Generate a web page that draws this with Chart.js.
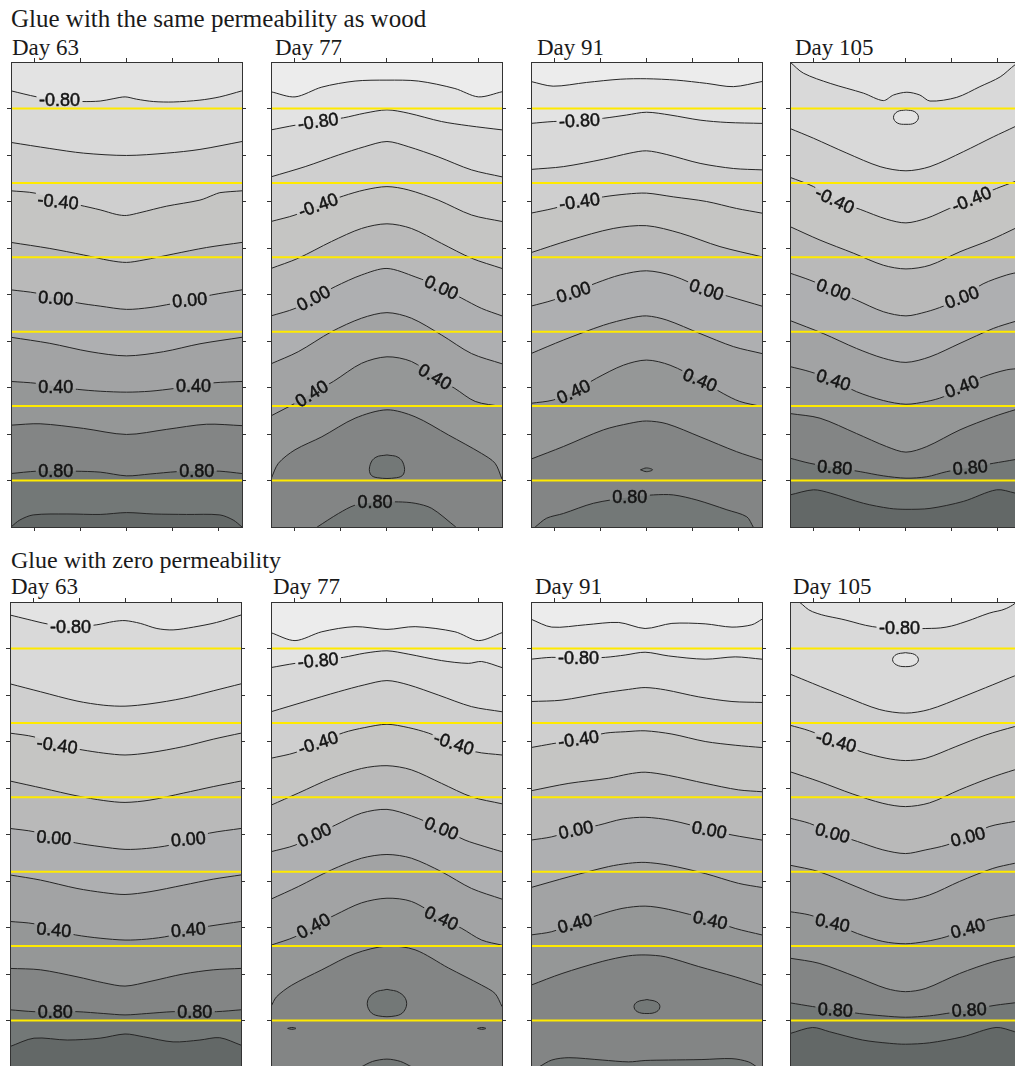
<!DOCTYPE html>
<html>
<head>
<meta charset="utf-8">
<title>Glue permeability contours</title>
<script src="https://cdn.jsdelivr.net/npm/chart.js@4.4.1/dist/chart.umd.min.js"></script>
<style>
  html, body { margin: 0; padding: 0; background: #fff; }
  body {
    width: 1015px; height: 1066px; overflow: hidden; position: relative;
    font-family: "Liberation Serif", "Times New Roman", serif; color: #1a1a1a;
  }
  .heading { position: absolute; left: 11px; font-size: 24px; line-height: 24px; white-space: nowrap; }
  .heading.top { font-size: 25px; }
  .day { position: absolute; font-size: 23px; line-height: 23px; white-space: nowrap; }
  .panel { position: absolute; }
</style>
</head>
<body>
<div class="heading top" style="top:7px">Glue with the same permeability as wood</div>
<div class="day" style="left:12px; top:36px">Day 63</div>
<div class="day" style="left:275px; top:36px">Day 77</div>
<div class="day" style="left:537px; top:36px">Day 91</div>
<div class="day" style="left:795px; top:36px">Day 105</div>
<canvas class="panel" id="wood-63" width="239" height="473" style="left:7px; top:58px"></canvas>
<canvas class="panel" id="wood-77" width="239" height="473" style="left:267px; top:58px"></canvas>
<canvas class="panel" id="wood-91" width="239" height="473" style="left:527px; top:58px"></canvas>
<canvas class="panel" id="wood-105" width="239" height="473" style="left:786px; top:58px"></canvas>

<div class="heading" style="top:548px">Glue with zero permeability</div>
<div class="day" style="left:11px; top:575px">Day 63</div>
<div class="day" style="left:273px; top:575px">Day 77</div>
<div class="day" style="left:535px; top:575px">Day 91</div>
<div class="day" style="left:793px; top:575px">Day 105</div>
<canvas class="panel" id="zero-63" width="239" height="473" style="left:6px; top:598px"></canvas>
<canvas class="panel" id="zero-77" width="239" height="473" style="left:267px; top:598px"></canvas>
<canvas class="panel" id="zero-91" width="239" height="473" style="left:527px; top:598px"></canvas>
<canvas class="panel" id="zero-105" width="239" height="473" style="left:786px; top:598px"></canvas>

<script>
// axes: x across the joint (0..5), depth from the top face (0..10, downwards)
const xTicks = [0.5, 1.5, 2.5, 3.5, 4.5];
const depthTicks = [1, 2, 3, 4, 5, 6, 7, 8, 9];
const glueLineDepths = [1, 2.6, 4.2, 5.8, 7.4, 9];

// grey for each band, keyed by the band's lower contour level
const bandLevels = [-1.2, -1.0, -0.8, -0.6, -0.4, -0.2, 0.0, 0.2, 0.4, 0.6, 0.8, 1.0];
const bandGreys = ['#ececec', '#e3e3e3', '#d9d9d9', '#cfcfcf', '#c5c5c3', '#b9b9b9',
                   '#aeafb1', '#a2a3a4', '#959797', '#838585', '#737877', '#636867'];

// contour lines: [level, [[x, depth], ...]], listed from the top down
// labels: [x, depth, angle in degrees, text]
// loops (closed contours): [level of the band inside, [[x, depth], ...]]

// ---- glue with the same permeability as wood ----
const wood63Lines = [
  [-0.8, [[0,0.62],[0.56,0.75],[1.05,0.82],[1.53,0.85],[1.93,0.84],[2.21,0.79],[2.47,0.75],[2.72,0.80],[3.08,0.85],[3.51,0.86],[4.09,0.82],[4.52,0.75],[5,0.62]]],
  [-0.6, [[0,1.73],[0.84,1.86],[1.57,1.96],[2.5,2.01],[3.37,1.96],[4.09,1.88],[5,1.71]]],
  [-0.4, [[0,2.77],[0.52,2.82],[1.02,2.98],[1.49,3.08],[1.93,3.18],[2.29,3.28],[2.5,3.30],[2.79,3.24],[3.37,3.10],[4.09,2.97],[4.38,2.86],[4.52,2.81],[5,2.77]]],
  [-0.2, [[0,3.88],[0.84,4.01],[1.57,4.15],[2.14,4.27],[2.5,4.31],[2.86,4.26],[3.51,4.13],[4.23,3.99],[5,3.88]]],
  [0.0, [[0,4.90],[0.55,4.97],[0.97,5.08],[1.44,5.18],[1.93,5.25],[2.5,5.32],[3.01,5.28],[3.48,5.20],[3.87,5.12],[4.34,5.01],[5,4.90]]],
  [0.2, [[0,5.92],[0.84,6.05],[1.71,6.23],[2.5,6.32],[3.30,6.23],[4.09,6.06],[5,5.92]]],
  [0.4, [[0,6.87],[0.55,6.91],[0.97,6.98],[1.44,7.04],[1.93,7.08],[2.5,7.10],[3.01,7.08],[3.55,7.02],[3.95,6.97],[4.38,6.90],[5,6.87]]],
  [0.6, [[0,7.81],[0.63,7.78],[1.57,7.88],[2.5,8.01],[3.37,7.90],[4.23,7.79],[5,7.82]]],
  [0.8, [[0,8.85],[0.55,8.80],[0.97,8.80],[1.39,8.80],[1.93,8.82],[2.5,8.90],[3.01,8.86],[3.59,8.81],[4.02,8.80],[4.52,8.80],[5,8.85]]],
  [1.0, [[0,10],[0.19,9.85],[0.48,9.74],[1.21,9.72],[1.93,9.73],[2.5,9.69],[3.08,9.72],[3.80,9.73],[4.52,9.74],[4.81,9.85],[5,10]]]
];
const wood63Labels = [[1.05,0.82,0,'-0.80'],[1.02,3.0,6,'-0.40'],[0.97,5.08,5,'0.00'],[3.87,5.12,-5,'0.00'],
  [0.97,6.98,0,'0.40'],[3.95,6.97,0,'0.40'],[0.97,8.80,0,'0.80'],[4.02,8.80,0,'0.80']];

const wood77Lines = [
  [-1.0, [[0,0.64],[0.52,0.75],[1.10,0.54],[1.82,0.41],[2.51,0.39],[3.19,0.41],[3.98,0.57],[4.49,0.75],[5,0.64]]],
  [-0.8, [[0,1.46],[0.52,1.36],[1.02,1.28],[1.57,1.20],[2.03,1.10],[2.51,1.03],[2.97,1.10],[3.69,1.28],[4.27,1.37],[5,1.46]]],
  [-0.6, [[0,2.47],[0.74,2.25],[1.46,2.00],[2.03,1.82],[2.51,1.71],[2.97,1.82],[3.62,2.04],[4.34,2.32],[5,2.47]]],
  [-0.4, [[0,3.43],[0.52,3.29],[1.02,3.08],[1.57,2.88],[2.03,2.75],[2.51,2.68],[2.97,2.75],[3.62,2.97],[4.34,3.29],[5,3.43]]],
  [-0.2, [[0,4.44],[0.59,4.22],[1.31,3.86],[1.96,3.58],[2.51,3.48],[3.04,3.58],[3.69,3.90],[4.34,4.22],[5,4.44]]],
  [0.0, [[0,5.46],[0.52,5.30],[0.92,5.08],[1.39,4.83],[1.96,4.58],[2.51,4.44],[3.12,4.62],[3.69,4.85],[4.13,5.08],[4.56,5.30],[5,5.46]]],
  [0.2, [[0,6.49],[0.59,6.23],[1.31,5.80],[1.96,5.51],[2.51,5.39],[3.04,5.51],[3.69,5.87],[4.34,6.27],[5,6.49]]],
  [0.4, [[0,7.61],[0.52,7.34],[0.88,7.13],[1.35,6.87],[1.96,6.48],[2.51,6.34],[3.04,6.44],[3.55,6.77],[3.98,7.02],[4.42,7.30],[5,7.41]]],
  [0.6, [[0,8.97],[0.16,8.63],[0.52,8.34],[1.10,8.06],[1.82,7.66],[2.51,7.48],[3.12,7.63],[3.84,8.02],[4.56,8.42],[4.85,8.63],[5,8.97]]],
  [0.8, [[1.0,10],[1.46,9.71],[1.82,9.53],[2.25,9.47],[2.76,9.46],[3.12,9.49],[3.48,9.60],[4.0,10]]]
];
const wood77Loops = [
  [0.8, [[2.51,8.45],[2.75,8.50],[2.87,8.65],[2.87,8.86],[2.72,8.94],[2.30,8.94],[2.15,8.86],[2.15,8.65],[2.27,8.50],[2.51,8.45]]]
];
const wood77Labels = [[1.02,1.28,-8,'-0.80'],[1.02,3.08,-20,'-0.40'],[0.92,5.08,-28,'0.00'],[3.69,4.85,25,'0.00'],
  [0.88,7.13,-32,'0.40'],[3.55,6.77,30,'0.40'],[2.25,9.47,0,'0.80']];

const wood91Lines = [
  [-1.0, [[0,0.42],[0.48,0.52],[1.20,0.44],[1.93,0.37],[2.50,0.36],[3.15,0.39],[3.80,0.46],[4.38,0.53],[5,0.42]]],
  [-0.8, [[0,1.32],[0.48,1.28],[1.05,1.26],[1.57,1.21],[2.07,1.14],[2.50,1.08],[3.01,1.14],[3.66,1.25],[4.24,1.30],[5,1.32]]],
  [-0.6, [[0,2.31],[0.70,2.25],[1.57,2.09],[2.14,1.96],[2.50,1.91],[2.94,1.99],[3.66,2.18],[4.38,2.29],[5,2.32]]],
  [-0.4, [[0,3.25],[0.48,3.15],[1.05,3.00],[1.57,2.90],[2.07,2.84],[2.50,2.82],[3.08,2.90],[3.80,3.00],[4.45,3.15],[5,3.25]]],
  [-0.2, [[0,4.10],[0.84,3.83],[1.78,3.58],[2.50,3.52],[3.23,3.68],[4.09,3.97],[5,4.19]]],
  [0.0, [[0,5.25],[0.48,5.12],[0.92,4.95],[1.42,4.75],[1.93,4.58],[2.50,4.49],[3.08,4.60],[3.80,4.90],[4.31,5.05],[5,5.25]]],
  [0.2, [[0,6.27],[0.70,5.98],[1.57,5.66],[2.14,5.51],[2.50,5.46],[2.94,5.55],[3.66,5.84],[4.38,6.12],[5,6.27]]],
  [0.4, [[0,7.34],[0.48,7.27],[0.92,7.09],[1.42,6.80],[2.00,6.52],[2.50,6.41],[3.01,6.52],[3.66,6.84],[4.16,7.13],[4.52,7.30],[5,7.41]]],
  [0.6, [[0,8.54],[0.70,8.27],[1.57,7.91],[2.14,7.77],[2.50,7.72],[2.94,7.78],[3.66,8.06],[4.45,8.38],[5,8.56]]],
  [0.8, [[0.09,10],[0.34,9.81],[0.70,9.71],[1.35,9.49],[2.14,9.36],[2.65,9.31],[3.08,9.31],[3.59,9.42],[4.24,9.63],[4.67,9.78],[4.81,10]]]
];
const wood91Loops = [
  [0.8, [[2.37,8.77],[2.50,8.73],[2.63,8.77],[2.50,8.81],[2.37,8.77]]]
];
const wood91Labels = [[1.05,1.26,-3,'-0.80'],[1.05,3.00,-8,'-0.40'],[0.92,4.95,-18,'0.00'],[3.80,4.90,18,'0.00'],
  [0.92,7.09,-25,'0.40'],[3.66,6.84,22,'0.40'],[2.14,9.36,0,'0.80']];

const wood105Lines = [
  [-0.8, [[0,0],[0.29,0.24],[0.87,0.46],[1.59,0.67],[2.02,0.83],[2.24,0.71],[2.53,0.65],[2.81,0.71],[3.03,0.84],[3.61,0.76],[4.11,0.53],[4.55,0.32],[4.87,0.06],[5,0]]],
  [-0.6, [[0,1.43],[0.51,1.64],[1.23,1.96],[1.95,2.25],[2.51,2.34],[3.03,2.25],[3.75,1.93],[4.40,1.61],[4.87,1.39],[5,1.32]]],
  [-0.4, [[0,2.48],[0.51,2.68],[0.97,2.97],[1.52,3.17],[2.09,3.38],[2.51,3.46],[2.96,3.36],[3.45,3.15],[3.93,2.95],[4.47,2.72],[4.87,2.57],[5,2.52]]],
  [-0.2, [[0,3.54],[0.65,3.83],[1.37,4.11],[2.02,4.37],[2.51,4.45],[3.03,4.37],[3.68,4.08],[4.33,3.83],[4.87,3.58],[5,3.51]]],
  [0.0, [[0,4.54],[0.43,4.69],[0.94,4.90],[1.44,5.12],[2.02,5.37],[2.51,5.46],[2.96,5.37],[3.32,5.25],[3.72,5.06],[4.18,4.77],[4.69,4.58],[5,4.51]]],
  [0.2, [[0,5.56],[0.72,5.84],[1.44,6.16],[2.02,6.37],[2.51,6.46],[3.03,6.34],[3.68,6.05],[4.40,5.73],[4.87,5.58],[5,5.55]]],
  [0.4, [[0,6.55],[0.43,6.66],[0.94,6.84],[1.44,7.09],[2.02,7.28],[2.51,7.36],[2.96,7.30],[3.32,7.20],[3.72,6.98],[4.18,6.77],[4.69,6.62],[5,6.59]]],
  [0.6, [[0,7.56],[0.65,7.66],[1.44,7.99],[2.09,8.27],[2.51,8.39],[2.96,8.27],[3.68,7.91],[4.40,7.63],[4.87,7.48],[5,7.45]]],
  [0.8, [[0,8.52],[0.43,8.63],[0.97,8.72],[1.52,8.81],[2.02,8.90],[2.51,8.95],[2.96,8.92],[3.39,8.81],[3.90,8.72],[4.40,8.63],[4.87,8.55],[5,8.52]]],
  [1.0, [[0,9.31],[0.51,9.20],[0.87,9.27],[1.59,9.49],[2.16,9.60],[2.51,9.62],[3.03,9.60],[3.75,9.45],[4.47,9.20],[4.87,9.27],[5,9.31]]]
];
const wood105Loops = [
  [-1.0, [[2.51,1.03],[2.70,1.07],[2.78,1.19],[2.70,1.31],[2.51,1.34],[2.32,1.31],[2.24,1.19],[2.32,1.07],[2.51,1.03]]]
];
const wood105Labels = [[0.97,2.97,25,'-0.40'],[3.93,2.95,-22,'-0.40'],[0.94,4.90,20,'0.00'],[3.72,5.06,-20,'0.00'],
  [0.94,6.84,18,'0.40'],[3.72,6.98,-20,'0.40'],[0.97,8.72,5,'0.80'],[3.90,8.72,-5,'0.80']];

// ---- glue with zero permeability ----
const zero63Lines = [
  [-0.8, [[0,0.28],[0.37,0.37],[0.80,0.47],[1.31,0.54],[1.88,0.49],[2.24,0.42],[2.49,0.40],[2.82,0.46],[3.18,0.57],[3.53,0.60],[3.97,0.54],[4.47,0.44],[5,0.28]]],
  [-0.6, [[0,1.76],[0.66,1.93],[1.45,2.13],[2.03,2.22],[2.49,2.24],[3.03,2.19],[3.75,2.07],[4.40,1.91],[5,1.76]]],
  [-0.4, [[0,2.82],[0.52,2.90],[1.02,3.08],[1.56,3.18],[2.03,3.25],[2.49,3.29],[3.03,3.24],[3.75,3.11],[4.40,2.95],[5,2.82]]],
  [-0.2, [[0,3.85],[0.73,4.01],[1.45,4.17],[2.03,4.27],[2.49,4.31],[3.03,4.26],[3.75,4.11],[4.40,3.97],[5,3.85]]],
  [0.0, [[0,4.87],[0.52,4.94],[0.95,5.07],[1.42,5.18],[1.95,5.26],[2.49,5.32],[2.96,5.30],[3.46,5.23],[3.86,5.10],[4.32,4.97],[5,4.87]]],
  [0.2, [[0,5.87],[0.66,5.98],[1.45,6.16],[2.03,6.25],[2.49,6.29],[3.03,6.23],[3.75,6.09],[4.40,5.96],[5,5.87]]],
  [0.4, [[0,6.87],[0.52,6.92],[0.95,7.05],[1.42,7.16],[1.95,7.23],[2.49,7.27],[2.96,7.25],[3.46,7.18],[3.86,7.05],[4.32,6.97],[5,6.87]]],
  [0.6, [[0,7.88],[0.66,7.91],[1.45,8.06],[2.03,8.19],[2.49,8.26],[3.03,8.16],[3.75,8.00],[4.40,7.91],[5,7.88]]],
  [0.8, [[0,8.77],[0.52,8.81],[0.98,8.81],[1.45,8.81],[2.03,8.85],[2.49,8.88],[2.96,8.85],[3.53,8.81],[4.00,8.81],[4.47,8.81],[5,8.77]]],
  [1.0, [[0,9.56],[0.52,9.38],[1.24,9.42],[1.95,9.38],[2.49,9.29],[2.89,9.35],[3.53,9.46],[4.11,9.42],[4.54,9.37],[5,9.53]]]
];
const zero63Labels = [[1.31,0.54,0,'-0.80'],[1.02,3.08,8,'-0.40'],[0.95,5.07,5,'0.00'],[3.86,5.10,-5,'0.00'],
  [0.95,7.05,5,'0.40'],[3.86,7.05,-5,'0.40'],[0.98,8.81,0,'0.80'],[4.00,8.81,0,'0.80']];

const zero77Lines = [
  [-1.0, [[0,0.66],[0.52,0.83],[1.10,0.64],[1.82,0.53],[2.51,0.59],[3.12,0.53],[3.98,0.64],[4.49,0.83],[5,0.66]]],
  [-0.8, [[0,1.41],[0.52,1.32],[1.02,1.26],[1.57,1.19],[2.03,1.10],[2.51,1.05],[2.97,1.12],[3.69,1.26],[4.27,1.32],[4.56,1.28],[5,1.41]]],
  [-0.6, [[0,2.36],[0.74,2.14],[1.46,1.93],[2.03,1.78],[2.51,1.69],[2.97,1.78],[3.62,2.00],[4.34,2.25],[5,2.36]]],
  [-0.4, [[0,3.36],[0.52,3.24],[1.02,3.03],[1.57,2.81],[2.03,2.70],[2.51,2.63],[2.97,2.70],[3.41,2.82],[3.96,3.04],[4.42,3.22],[5,3.29]]],
  [-0.2, [[0,4.37],[0.59,4.11],[1.31,3.79],[1.96,3.58],[2.51,3.52],[3.04,3.61],[3.69,3.90],[4.34,4.19],[5,4.34]]],
  [0.0, [[0,5.37],[0.52,5.23],[0.94,5.01],[1.39,4.80],[1.96,4.54],[2.51,4.46],[3.04,4.60],[3.69,4.87],[4.20,5.12],[4.63,5.26],[5,5.37]]],
  [0.2, [[0,6.39],[0.59,6.12],[1.31,5.76],[1.96,5.51],[2.51,5.43],[3.04,5.51],[3.69,5.80],[4.34,6.16],[5,6.39]]],
  [0.4, [[0,7.38],[0.52,7.20],[0.92,6.97],[1.39,6.73],[1.96,6.47],[2.51,6.37],[3.04,6.44],[3.69,6.80],[4.13,7.02],[4.56,7.27],[5,7.38]]],
  [0.6, [[0,8.70],[0.12,8.49],[0.45,8.24],[1.10,7.91],[1.82,7.56],[2.51,7.40],[3.12,7.48],[3.84,7.87],[4.56,8.24],[4.85,8.42],[5,8.70]]],
  [0.8, [[1.95,10],[2.20,9.88],[2.51,9.83],[2.80,9.88],[3.05,10]]]
];
const zero77Loops = [
  [0.8, [[2.51,8.33],[2.78,8.40],[2.93,8.58],[2.88,8.80],[2.70,8.90],[2.32,8.90],[2.14,8.80],[2.09,8.58],[2.24,8.40],[2.51,8.33]]],
  [0.8, [[0.36,9.17],[0.45,9.15],[0.54,9.17],[0.45,9.19],[0.36,9.17]]],
  [0.8, [[4.47,9.17],[4.56,9.15],[4.65,9.17],[4.56,9.19],[4.47,9.17]]]
];
const zero77Labels = [[1.02,1.26,-5,'-0.80'],[1.02,3.03,-18,'-0.40'],[3.96,3.04,18,'-0.40'],[0.94,5.01,-25,'0.00'],
  [3.69,4.87,22,'0.00'],[0.92,6.97,-28,'0.40'],[3.69,6.80,25,'0.40']];

const zero91Lines = [
  [-1.0, [[0,0.37],[0.45,0.54],[1.18,0.49],[1.90,0.44],[2.47,0.57],[3.05,0.46],[3.77,0.47],[4.35,0.54],[4.78,0.49],[5,0.37]]],
  [-0.8, [[0,1.23],[0.45,1.19],[1.03,1.21],[1.61,1.19],[2.04,1.14],[2.47,1.08],[2.98,1.16],[3.77,1.23],[4.42,1.18],[5,1.23]]],
  [-0.6, [[0,2.14],[0.67,2.11],[1.54,1.96],[2.11,1.88],[2.47,1.84],[2.91,1.89],[3.63,2.04],[4.35,2.14],[5,2.16]]],
  [-0.4, [[0,3.13],[0.45,3.05],[1.03,2.95],[1.61,2.82],[2.04,2.79],[2.47,2.77],[3.05,2.84],[3.77,3.00],[4.42,3.08],[5,3.13]]],
  [-0.2, [[0,4.06],[0.82,3.90],[1.68,3.79],[2.11,3.70],[2.47,3.66],[2.98,3.73],[3.77,3.90],[4.49,4.04],[5,4.08]]],
  [0.0, [[0,5.12],[0.45,5.05],[0.97,4.90],[1.46,4.80],[1.97,4.67],[2.47,4.63],[3.05,4.70],[3.86,4.90],[4.35,5.01],[5,5.12]]],
  [0.2, [[0,6.14],[0.82,5.91],[1.68,5.69],[2.11,5.62],[2.47,5.60],[2.98,5.66],[3.77,5.84],[4.49,6.05],[5,6.14]]],
  [0.4, [[0,7.16],[0.45,7.09],[0.95,6.91],[1.46,6.73],[1.97,6.59],[2.47,6.54],[2.98,6.61],[3.88,6.84],[4.42,7.02],[5,7.16]]],
  [0.6, [[0,8.24],[0.67,7.99],[1.54,7.73],[2.11,7.61],[2.47,7.59],[2.91,7.63],[3.63,7.84],[4.42,8.06],[5,8.24]]],
  [0.8, [[0.17,10],[0.45,9.85],[0.82,9.80],[1.54,9.85],[2.11,9.89],[2.47,9.86],[2.98,9.85],[3.70,9.84],[4.35,9.82],[4.71,9.89],[4.89,10]]]
];
const zero91Loops = [
  [0.8, [[2.51,8.55],[2.72,8.60],[2.79,8.70],[2.72,8.81],[2.51,8.85],[2.30,8.81],[2.23,8.70],[2.30,8.60],[2.51,8.55]]]
];
const zero91Labels = [[1.03,1.21,0,'-0.80'],[1.03,2.95,-8,'-0.40'],[0.97,4.90,-12,'0.00'],[3.86,4.90,10,'0.00'],
  [0.95,6.91,-15,'0.40'],[3.88,6.84,12,'0.40']];

const zero105Lines = [
  [-0.6, [[0,1.55],[0.49,1.75],[1.21,2.04],[1.93,2.31],[2.50,2.39],[3.02,2.31],[3.74,2.04],[4.39,1.78],[4.86,1.59],[5,1.55]]],
  [-0.4, [[0,2.65],[0.42,2.77],[1.00,3.00],[1.54,3.22],[2.08,3.36],[2.50,3.41],[2.94,3.36],[3.59,3.11],[4.24,2.86],[4.86,2.68],[5,2.65]]],
  [-0.2, [[0,3.65],[0.63,3.86],[1.36,4.13],[2.01,4.33],[2.50,4.40],[3.02,4.32],[3.67,4.04],[4.31,3.79],[4.86,3.61],[5,3.58]]],
  [0.0, [[0,4.65],[0.42,4.76],[0.92,4.97],[1.46,5.15],[2.01,5.33],[2.50,5.41],[2.94,5.33],[3.38,5.23],[3.85,5.05],[4.31,4.83],[4.86,4.72],[5,4.70]]],
  [0.2, [[0,5.66],[0.63,5.80],[1.43,6.12],[2.01,6.34],[2.50,6.41],[3.02,6.30],[3.67,6.01],[4.39,5.73],[4.86,5.62],[5,5.60]]],
  [0.4, [[0,6.66],[0.42,6.73],[0.92,6.90],[1.46,7.13],[2.01,7.30],[2.50,7.35],[2.94,7.30],[3.38,7.20],[3.85,7.02],[4.31,6.84],[4.86,6.73],[5,6.70]]],
  [0.6, [[0,7.66],[0.63,7.77],[1.43,8.06],[2.08,8.31],[2.50,8.38],[2.94,8.31],[3.67,7.99],[4.39,7.74],[4.86,7.63],[5,7.59]]],
  [0.8, [[0,8.62],[0.49,8.70],[0.98,8.77],[1.50,8.85],[2.01,8.90],[2.50,8.93],[3.02,8.90],[3.38,8.85],[3.88,8.77],[4.46,8.67],[4.86,8.62],[5,8.60]]],
  [1.0, [[0,9.28],[0.49,9.15],[0.85,9.24],[1.57,9.42],[2.15,9.49],[2.50,9.51],[3.02,9.48],[3.74,9.35],[4.46,9.15],[4.86,9.24],[5,9.29]]]
];
const zero105Loops = [
  [-1.0, [[0.20,0],[0.49,0.21],[1.21,0.39],[1.79,0.53],[2.37,0.57],[2.94,0.57],[3.38,0.54],[3.81,0.42],[4.31,0.24],[4.68,0.14],[4.86,0],[0.20,0]]],
  [-1.0, [[2.50,1.09],[2.70,1.13],[2.78,1.24],[2.70,1.35],[2.50,1.39],[2.30,1.35],[2.22,1.24],[2.30,1.13],[2.50,1.09]]]
];
const zero105Labels = [[2.37,0.57,0,'-0.80'],[1.00,3.00,15,'-0.40'],[0.92,4.97,15,'0.00'],[3.85,5.05,-15,'0.00'],
  [0.92,6.90,12,'0.40'],[3.85,7.02,-15,'0.40'],[0.98,8.77,3,'0.80'],[3.88,8.77,-3,'0.80']];

const panelDefs = [
  { id: 'wood-63', topBand: -1.0, lines: wood63Lines, loops: [], labels: wood63Labels },
  { id: 'wood-77', topBand: -1.2, lines: wood77Lines, loops: wood77Loops, labels: wood77Labels },
  { id: 'wood-91', topBand: -1.2, lines: wood91Lines, loops: wood91Loops, labels: wood91Labels },
  { id: 'wood-105', topBand: -1.0, lines: wood105Lines, loops: wood105Loops, labels: wood105Labels },
  { id: 'zero-63', topBand: -1.0, lines: zero63Lines, loops: [], labels: zero63Labels },
  { id: 'zero-77', topBand: -1.2, lines: zero77Lines, loops: zero77Loops, labels: zero77Labels },
  { id: 'zero-91', topBand: -1.2, lines: zero91Lines, loops: zero91Loops, labels: zero91Labels },
  { id: 'zero-105', topBand: -0.8, lines: zero105Lines, loops: zero105Loops, labels: zero105Labels }
];

const X_MIN = 0, X_MAX = 5, DEPTH_MIN = 0, DEPTH_MAX = 10;
const LINE_COLOR = '#262626';
const LABEL_FONT = '18px "Liberation Sans", Arial, sans-serif';

function bandColor(level) {
    const i = bandLevels.findIndex(v => Math.abs(v - level) < 0.001);
    return bandGreys[i];
}

function toPoints(pts) {
    return pts.map(([x, y]) => ({ x, y }));
}

function buildDatasets(def) {
    // index 0 is drawn last, so glue lines go first and the top contour last
    const glue = glueLineDepths.map(depth => ({
        data: [{ x: X_MIN, y: depth }, { x: X_MAX, y: depth }],
        borderColor: '#ffea00',
        borderWidth: 2,
        tension: 0,
        fill: false
    }));
    const loops = def.loops.map(([inside, pts]) => ({
        data: toPoints(pts),
        contour: true,
        borderColor: LINE_COLOR,
        borderWidth: 1,
        tension: 0.4,
        fill: 'shape',
        backgroundColor: bandColor(inside)
    }));
    const lines = def.lines.slice().reverse().map(([level, pts]) => ({
        data: toPoints(pts),
        contour: true,
        borderColor: LINE_COLOR,
        borderWidth: 1,
        tension: 0.3,
        fill: 'start',
        backgroundColor: bandColor(level)
    }));
    return [...glue, ...loops, ...lines];
}

function labelCorners(chart, label, ctx) {
    const [x, y, angle, text] = label;
    const px = chart.scales.x.getPixelForValue(x);
    const py = chart.scales.y.getPixelForValue(y);
    const w = ctx.measureText(text).width + 5;
    const h = 13;
    const a = angle * Math.PI / 180;
    const c = Math.cos(a), s = Math.sin(a);
    return [[-w / 2, -h / 2], [w / 2, -h / 2], [w / 2, h / 2], [-w / 2, h / 2]]
        .map(([u, v]) => [px + u * c - v * s, py + u * s + v * c]);
}

function makeContourPlugin(def) {
    return {
        id: 'contourLabels',
        beforeDraw(chart) {
            const { ctx, chartArea: a } = chart;
            ctx.save();
            ctx.fillStyle = bandColor(def.topBand);
            ctx.fillRect(a.left, a.top, a.right - a.left, a.bottom - a.top);
            ctx.restore();
        },
        beforeDatasetDraw(chart, args) {
            if (!chart.data.datasets[args.index].contour) return;
            const ctx = chart.ctx;
            ctx.save();
            ctx.font = LABEL_FONT;
            ctx.beginPath();
            ctx.rect(0, 0, chart.width, chart.height);
            def.labels.forEach(label => {
                const pts = labelCorners(chart, label, ctx);
                ctx.moveTo(pts[0][0], pts[0][1]);
                pts.slice(1).forEach(p => ctx.lineTo(p[0], p[1]));
                ctx.closePath();
            });
            ctx.clip('evenodd');
        },
        afterDatasetDraw(chart, args) {
            if (chart.data.datasets[args.index].contour) chart.ctx.restore();
        },
        afterDatasetsDraw(chart) {
            const ctx = chart.ctx;
            ctx.save();
            ctx.font = LABEL_FONT;
            ctx.fillStyle = '#141414';
            ctx.strokeStyle = '#141414';
            ctx.lineWidth = 0.5;
            ctx.textAlign = 'center';
            ctx.textBaseline = 'middle';
            def.labels.forEach(([x, y, angle, text]) => {
                ctx.save();
                ctx.translate(chart.scales.x.getPixelForValue(x), chart.scales.y.getPixelForValue(y));
                ctx.rotate(angle * Math.PI / 180);
                ctx.fillText(text, 0, 1);
                ctx.strokeText(text, 0, 1);
                ctx.restore();
            });
            ctx.restore();
        }
    };
}

function frameAxis(position, min, max, tickValues, reverse) {
    return {
        type: 'linear',
        position,
        min,
        max,
        reverse,
        afterBuildTicks: scale => { scale.ticks = tickValues.map(v => ({ value: v })); },
        ticks: { display: false },
        grid: { drawOnChartArea: false, drawTicks: true, tickLength: 4, color: '#333', lineWidth: 1 },
        border: { display: true, color: '#333', width: 1, z: 1 }
    };
}

function renderPanel(def) {
    const canvas = document.getElementById(def.id);
    new Chart(canvas.getContext('2d'), {
        type: 'line',
        data: { datasets: buildDatasets(def) },
        options: {
            responsive: false,
            animation: false,
            events: [],
            layout: { padding: 0 },
            elements: { point: { radius: 0 } },
            plugins: {
                legend: { display: false },
                tooltip: { enabled: false },
                filler: { drawTime: 'beforeDatasetsDraw' }
            },
            scales: {
                x: frameAxis('bottom', X_MIN, X_MAX, xTicks, false),
                x2: frameAxis('top', X_MIN, X_MAX, xTicks, false),
                y: frameAxis('left', DEPTH_MIN, DEPTH_MAX, depthTicks, true),
                y2: frameAxis('right', DEPTH_MIN, DEPTH_MAX, depthTicks, true)
            }
        },
        plugins: [makeContourPlugin(def)]
    });
}

panelDefs.forEach(renderPanel);
</script>
</body>
</html>
